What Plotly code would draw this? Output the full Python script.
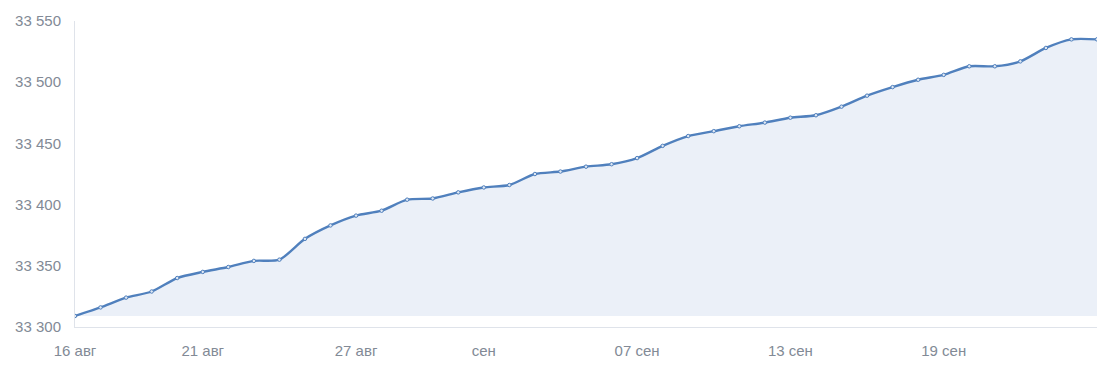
import plotly.graph_objects as go
import pandas as pd

dates = pd.date_range("2023-08-16", "2023-09-25", freq="D").strftime("%Y-%m-%d").tolist()
values = [33309, 33316, 33324, 33329, 33340, 33345, 33349, 33354, 33355, 33372,
          33383, 33391, 33395, 33404, 33405, 33410, 33414, 33416, 33425, 33427,
          33431, 33433, 33438, 33448, 33456, 33460, 33464, 33467, 33471, 33473,
          33480, 33489, 33496, 33502, 33506, 33513, 33513, 33517, 33528, 33535,
          33535]

x_tickvals = ["2023-08-16", "2023-08-21", "2023-08-27", "2023-09-01",
              "2023-09-07", "2023-09-13", "2023-09-19"]
x_ticktext = ["16 авг", "21 авг", "27 авг", "сен", "07 сен", "13 сен", "19 сен"]
y_tickvals = [33300, 33350, 33400, 33450, 33500, 33550]
y_ticktext = ["33 300", "33 350", "33 400", "33 450", "33 500", "33 550"]

base = min(values)

fig = go.Figure()
fig.add_trace(go.Scatter(x=dates, y=[base] * len(dates), mode="lines",
                         line=dict(width=0), hoverinfo="skip", showlegend=False))
fig.add_trace(go.Scatter(
    x=dates, y=values, mode="lines+markers", fill="tonexty",
    fillcolor="#ebf0f8",
    line=dict(color="#5080bd", width=2.4, shape="spline", smoothing=0.7),
    marker=dict(size=3.5, color="#dfe8f4", line=dict(color="#5080bd", width=1)),
    showlegend=False))

fig.update_layout(
    width=1112, height=371,
    margin=dict(l=75, r=15, t=20, b=43),
    plot_bgcolor="white", paper_bgcolor="white",
    font=dict(family="Liberation Sans, Arial, sans-serif", size=15, color="#828a96"),
)
fig.update_xaxes(range=["2023-08-16", "2023-09-25"], tickvals=x_tickvals,
                 ticktext=x_ticktext, showgrid=False, zeroline=False,
                 showline=True, linecolor="#dfe3ea", linewidth=1,
                 ticks="", ticklabelstandoff=10)
fig.update_yaxes(range=[33300, 33550], tickvals=y_tickvals, ticktext=y_ticktext,
                 showgrid=False, zeroline=False, showline=True,
                 linecolor="#dfe3ea", linewidth=1, ticks="",
                 ticklabelstandoff=10)

fig.write_html(
    "out.html",
    config={"displayModeBar": False},
    post_script="document.body.style.margin='0';document.body.style.overflow='hidden';",
)
